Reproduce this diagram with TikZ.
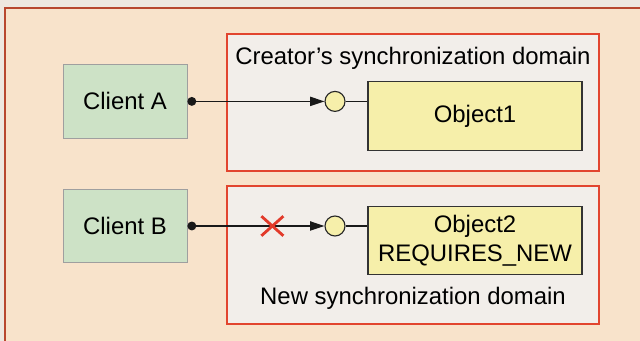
\documentclass[tikz,border=0pt]{standalone}
\usepackage{fontspec}
\setmainfont{Liberation Sans}
\usepackage{tikz}
\usetikzlibrary{
  positioning,
  arrows.meta,
  shapes.misc,
  calc
}
\usepackage{xcolor}
\definecolor{paper}{HTML}{EEE8E0}
\definecolor{panel}{HTML}{F8E3CB}
\definecolor{frameline}{HTML}{B8482F}
\definecolor{domainfill}{HTML}{F2EEEA}
\definecolor{domainline}{HTML}{E2452F}
\definecolor{clientfill}{HTML}{CDE2C6}
\definecolor{objfill}{HTML}{F6EFAA}
\definecolor{blocked}{HTML}{E23A2A}

\begin{document}
\begin{tikzpicture}[
  font=\fontsize{17}{21}\selectfont,
  syncdomain/.style={draw=domainline, fill=domainfill, line width=0.9pt,
               minimum width=9.3cm, inner sep=0pt},
  client/.style={draw=gray!75, fill=clientfill, line width=0.6pt,
               minimum width=3.1cm, minimum height=1.83cm, inner sep=0pt},
  object/.style={draw=black!80, fill=objfill, line width=0.8pt,
               minimum width=5.35cm, minimum height=1.72cm, inner sep=0pt,
               align=center},
  port/.style={circle, draw=black!85, fill=objfill, line width=0.8pt,
               minimum size=0.5cm, inner sep=0pt},
  call/.style={{Circle[length=2.2mm]}-{Triangle[length=3.6mm, width=2.3mm]},
               line width=1.1pt, black!90},
  link/.style={line width=1.1pt, black!90},
  cut/.style={cross out, draw=blocked, line width=2pt,
               minimum width=0.48cm, minimum height=0.42cm, inner sep=0pt}
]
  \useasboundingbox (0,0) rectangle (16,8.525);

  % Background and outer frame
  \fill[paper] (0,0) rectangle (16,8.525);
  \fill[panel] (0.125,0) rectangle (16,8.325);
  \draw[frameline, line width=1.2pt] (0.125,0) -- (0.125,8.325) -- (16,8.325);

  % Synchronization domains
  \node[syncdomain, minimum height=3.425cm] (dom1) at (10.325, 5.9625) {};
  \node[syncdomain, minimum height=3.45cm] (dom2) at (10.325, 2.15) {};
  \node (dom1lbl) at (10.325, 7.075) {Creator's synchronization domain};
  \node (dom2lbl) at (10.325, 1.075) {New synchronization domain};

  % Clients
  \node[client] (cla) at (3.125, 5.99) {Client A};
  \node[client] (clb) at (3.125, 2.875) {Client B};

  % Objects
  \node[object] (obj1) at (11.875, 5.625) {Object1};
  \node[object] (obj2) at (11.875, 2.5125) {Object2\\REQUIRES\_NEW};

  % Interface ports
  \node[port] (port1) at (8.375, 5.99) {};
  \node[port] (port2) at (8.375, 2.875) {};

  % Calls
  \draw[call] (cla.east) -- (port1.west);
  \draw[call] (clb.east) -- (port2.west)
    node[cut, pos=0.62] (nocall) {};
  \draw[link] (port1.east) -- (port1.east -| obj1.west);
  \draw[link] (port2.east) -- (port2.east -| obj2.west);

\end{tikzpicture}
\end{document}
